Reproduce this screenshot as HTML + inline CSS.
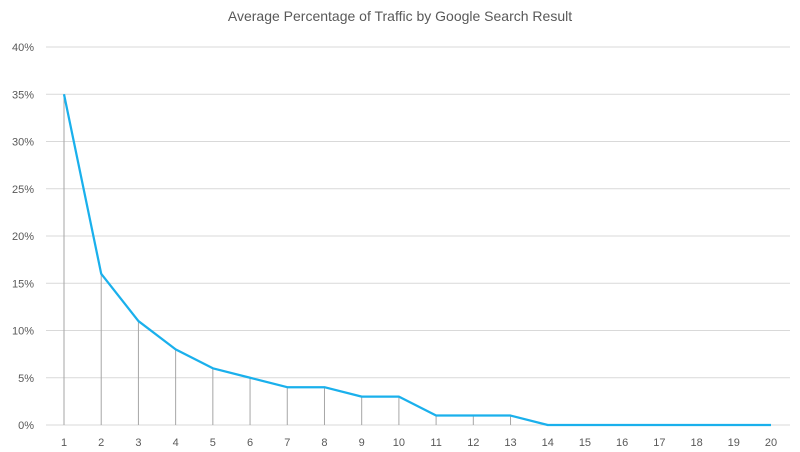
<!DOCTYPE html>
<html><head><meta charset="utf-8"><style>
body{margin:0;background:#fff;}
svg{display:block;font-family:"Liberation Sans",sans-serif;}
</style></head><body>
<svg id="chart" width="800" height="452">
<text x="400" y="21" text-anchor="middle" font-size="14" fill="#595959">Average Percentage of Traffic by Google Search Result</text>
<g id="grid"></g><g id="drops"></g><g id="xlab"></g><g id="ylab"></g>
</svg>
<script>
const categories=[1,2,3,4,5,6,7,8,9,10,11,12,13,14,15,16,17,18,19,20];
const values=[35,16,11,8,6,5,4,4,3,3,1,1,1,0,0,0,0,0,0,0];
const yTicks=[0,5,10,15,20,25,30,35,40];
const NS="http://www.w3.org/2000/svg";
const svg=document.getElementById('chart');
const x=i=>64+i*(771-64)/19;
const y=v=>425-v*(425-47)/40;
function mk(t,a,p){const e=document.createElementNS(NS,t);for(const k in a)e.setAttribute(k,a[k]);(p||svg).appendChild(e);return e;}
yTicks.forEach(t=>{
 const l=mk('line',{x1:46,x2:790,y1:y(t),y2:y(t),stroke:'#d9d9d9','stroke-width':1},document.getElementById('grid'));
 
 
 const tx=mk('text',{x:34,y:y(t)+4,'text-anchor':'end','font-size':11,fill:'#595959'},document.getElementById('ylab'));
 tx.textContent=t+'%';
 
 
});
categories.forEach((c,i)=>{
 const d=mk('line',{x1:x(i),x2:x(i),y1:y(values[i]),y2:y(0),stroke:'#a6a6a6','stroke-width':1},document.getElementById('drops'));
 
 
 const tx=mk('text',{x:x(i),y:446,'text-anchor':'middle','font-size':11,fill:'#595959'},document.getElementById('xlab'));
 tx.textContent=c;
 
 
});
const p=mk('polyline',{points:values.map((v,i)=>x(i)+','+y(v)).join(' '),fill:'none',stroke:'#1ab0ec','stroke-width':2.25,'stroke-linejoin':'round'});


</script>
</body></html>
